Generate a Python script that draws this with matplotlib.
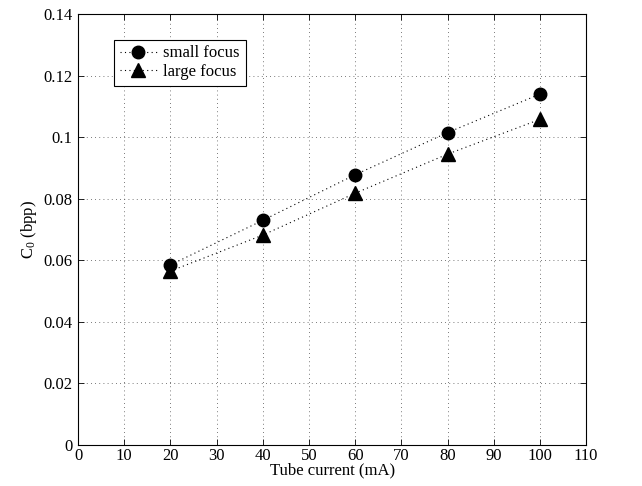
import matplotlib
matplotlib.use("Agg")
import matplotlib.pyplot as plt
from matplotlib.ticker import FuncFormatter

# Data
current = [20, 40, 60, 80, 100]                       # mA
small_focus = [0.0585, 0.0730, 0.0878, 0.1015, 0.1140]
large_focus = [0.0565, 0.0682, 0.0818, 0.0945, 0.1058]

xticks = list(range(0, 111, 10))
yticks = [0, 0.02, 0.04, 0.06, 0.08, 0.1, 0.12, 0.14]

plt.rcParams["font.family"] = ["Liberation Serif", "DejaVu Serif"]
plt.rcParams["mathtext.fontset"] = "custom"
plt.rcParams["mathtext.rm"] = "Liberation Serif"
plt.rcParams["mathtext.it"] = "Liberation Serif"
plt.rcParams["font.size"] = 12

fig = plt.figure(figsize=(6.42, 4.86), dpi=100)
ax = fig.add_axes([0.1215, 0.0844, 0.7915, 0.8866])

ax.plot(current, small_focus, color="black", linestyle=(0, (1, 3)),
        marker="o", markersize=9, linewidth=0.8, label="small focus")
ax.plot(current, large_focus, color="black", linestyle=(0, (1, 3)),
        marker="^", markersize=10, linewidth=0.8, label="large focus")

ax.set_xlim(0, 110)
ax.set_ylim(0, 0.14)
ax.set_xticks(xticks)
ax.set_yticks(yticks)
ax.yaxis.set_major_formatter(FuncFormatter(lambda v, p: "%g" % round(v, 4)))

ax.grid(True, linestyle=(0, (1, 4)), color="0.3", linewidth=0.6)
ax.tick_params(direction="in", top=True, right=True, length=4, width=0.6,
               labelsize=12)
ax.tick_params(axis="x", pad=2)
ax.tick_params(axis="y", pad=4)
for s in ax.spines.values():
    s.set_linewidth(0.8)

ax.set_xlabel("Tube current (mA)", labelpad=-1)
ax.set_ylabel("C$_0$ (bpp)", labelpad=3)

leg = ax.legend(loc="upper left", bbox_to_anchor=(0.055, 0.96),
                fancybox=False, framealpha=1, edgecolor="black",
                borderpad=0.35, handlelength=2.2, handletextpad=0.4,
                labelspacing=0.15, fontsize=12)
leg.get_frame().set_linewidth(0.8)

fig.savefig("out.png", dpi=100)
